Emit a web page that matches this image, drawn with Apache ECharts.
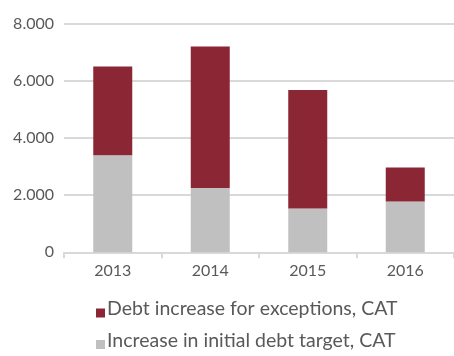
<!DOCTYPE html>
<html>
<head>
<meta charset="utf-8">
<script src="https://cdn.jsdelivr.net/npm/echarts@6/dist/echarts.min.js"></script>
<style>
  html, body { margin: 0; padding: 0; background: #ffffff; }
  #chart { width: 454px; height: 356px; }
</style>
</head>
<body>
<div id="chart"></div>
<script>
// Years on the category axis
const years = ['2013', '2014', '2015', '2016'];
// Stacked components (CAT)
const initialTarget = [3400, 2250, 1530, 1780];
const exceptions = [3100, 4950, 4150, 1190];
// Series names shown in the legend
const seriesNames = ['Debt increase for exceptions, CAT', 'Increase in initial debt target, CAT'];

const FONT = 'Lato, "Open Sans", sans-serif';
const TEXT = '#595959';
// Square legend marker sitting low beside the text
const LEGEND_ICON = 'path://M0,0 M0,8 L9,8 L9,17 L0,17 Z';

const chart = echarts.init(document.getElementById('chart'), null, { renderer: 'canvas' });

chart.setOption({
  animation: false,
  backgroundColor: '#ffffff',
  grid: { left: 64, top: 23.7, width: 397, height: 228.6, containLabel: false },
  legend: {
    orient: 'vertical',
    left: 96,
    top: 299,
    height: 80,
    padding: 0,
    itemWidth: 9,
    itemHeight: 17,
    itemGap: 11.5,
    data: [
      { name: seriesNames[0], icon: LEGEND_ICON },
      { name: seriesNames[1], icon: LEGEND_ICON }
    ],
    textStyle: { fontFamily: FONT, fontSize: 19.5, lineHeight: 20, color: TEXT, padding: [0, 0, 0, -3] }
  },
  xAxis: {
    type: 'category',
    data: years,
    axisLine: { show: true, lineStyle: { color: '#d9d9d9', width: 2 } },
    axisTick: { show: true, length: 6, lineStyle: { color: '#d9d9d9', width: 2 } },
    axisLabel: { fontFamily: FONT, fontSize: 16, color: TEXT, margin: 11 }
  },
  yAxis: {
    type: 'value',
    min: 0,
    max: 8000,
    interval: 2000,
    axisLine: { show: false },
    axisTick: { show: false },
    splitLine: { lineStyle: { color: '#d9d9d9', width: 2 } },
    axisLabel: {
      fontFamily: FONT, fontSize: 16, color: TEXT, margin: 10,
      formatter: v => v === 0 ? '0' : v.toLocaleString('de-DE')
    }
  },
  series: [
    {
      name: seriesNames[1],
      type: 'bar',
      stack: 'debt',
      data: initialTarget,
      barWidth: 39,
      itemStyle: { color: '#c0c0c0' }
    },
    {
      name: seriesNames[0],
      type: 'bar',
      stack: 'debt',
      data: exceptions,
      barWidth: 39,
      itemStyle: { color: '#8b2634' }
    }
  ]
});
</script>
</body>
</html>
